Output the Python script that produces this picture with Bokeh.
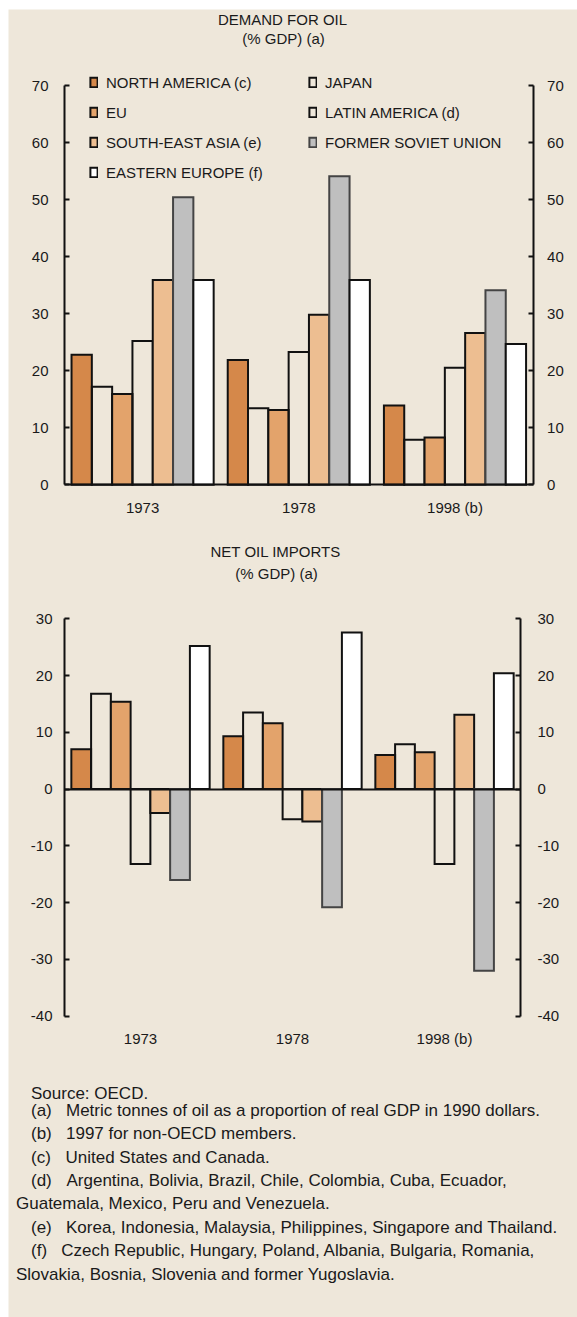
from bokeh.plotting import figure
from bokeh.models import (ColumnDataSource, Range1d, FixedTicker, LinearAxis, Legend,
                          LegendItem, Label)
from bokeh.transform import dodge
from bokeh.embed import file_html
from bokeh.resources import INLINE

# ---------------- data ----------------
years = ["1973", "1978", "1998 (b)"]
series = ["NORTH AMERICA (c)", "JAPAN", "EU", "LATIN AMERICA (d)",
          "SOUTH-EAST ASIA (e)", "FORMER SOVIET UNION", "EASTERN EUROPE (f)"]

demand_north_america = [22.8, 21.9, 13.9]
demand_japan = [17.2, 13.4, 7.9]
demand_eu = [15.9, 13.1, 8.3]
demand_latin_america = [25.2, 23.3, 20.5]
demand_se_asia = [35.9, 29.8, 26.6]
demand_fsu = [50.4, 54.1, 34.1]
demand_eastern_europe = [35.9, 35.9, 24.7]

imports_north_america = [7.0, 9.3, 6.0]
imports_japan = [16.8, 13.5, 7.9]
imports_eu = [15.4, 11.6, 6.5]
imports_latin_america = [-13.2, -5.3, -13.2]
imports_se_asia = [-4.2, -5.7, 13.1]
imports_fsu = [-16.0, -20.8, -32.0]
imports_eastern_europe = [25.2, 27.6, 20.4]

demand_ticks = [0, 10, 20, 30, 40, 50, 60, 70]
imports_ticks = [-40, -30, -20, -10, 0, 10, 20, 30]

titles_top = ["DEMAND FOR OIL", "(% GDP) (a)"]
titles_bottom = ["NET OIL IMPORTS", "(% GDP) (a)"]

notes = [
    "Source: OECD.",
    "(a)", "Metric tonnes of oil as a proportion of real GDP in 1990 dollars.",
    "(b)", "1997 for non-OECD members.",
    "(c)", "United States and Canada.",
    "(d)", "Argentina, Bolivia, Brazil, Chile, Colombia, Cuba, Ecuador,",
    "Guatemala, Mexico, Peru and Venezuela.",
    "(e)", "Korea, Indonesia, Malaysia, Philippines, Singapore and Thailand.",
    "(f)", "Czech Republic, Hungary, Poland, Albania, Bulgaria, Romania,",
    "Slovakia, Bosnia, Slovenia and former Yugoslavia.",
]

# ---------------- style / layout ----------------
BG = "#EEE7DA"
FONT = "Liberation Sans"
TXT = "#1a1a1a"
CFS = "15px"
fills = ["#D5884A", None, "#E3A36B", None, "#EDBE91", "#BFBFBF", "#FFFFFF"]
lines = ["#111111", "#111111", "#111111", "#111111", "#111111", "#444444", "#111111"]
BW = 0.13

W, H = 577, 1317          # page size
FL, FT = 8, 9             # panel (frame) top-left on the page
FW, FH = W - FL, H - FT


def xr_from(v0, px0, v1, px1):
    k = (v1 - v0) / (px1 - px0)
    return Range1d(v0 + (FL - px0) * k, v0 + (W - px0) * k)


def yr_from(v0, py0, v1, py1):
    k = (v1 - v0) / (py1 - py0)
    return Range1d(v0 + (H - py0) * k, v0 + (FT - py0) * k)


p = figure(frame_width=FW, frame_height=FH,
           min_border_left=FL, min_border_top=FT, min_border_right=0, min_border_bottom=0,
           x_range=Range1d(0, FW), y_range=Range1d(FH, 0),
           x_axis_type=None, y_axis_type=None,
           output_backend="svg", toolbar_location=None,
           background_fill_color=BG, border_fill_color="#FFFFFF",
           outline_line_color=None)
p.xgrid.visible = False
p.ygrid.visible = False

p.extra_x_ranges = {"tx": xr_from(-0.5, 64, 2.5, 532.6),
                    "bx": xr_from(-0.5, 64, 2.5, 520)}
p.extra_y_ranges = {"ty": yr_from(0, 484.3, 70, 85),
                    "by": yr_from(-40, 1015.7, 30, 618.3)}


def style_axis(ax, stand):
    ax.major_label_standoff = stand
    ax.major_label_text_font = FONT
    ax.major_label_text_font_size = CFS
    ax.major_label_text_color = TXT
    ax.minor_tick_line_color = None
    ax.axis_line_width = 2
    ax.axis_line_color = "#111111"


def chart(values, ticks, xr, yr, lstand, rstand, xstand, zero_axis):
    data = dict(g=[0, 1, 2])
    for i, v in enumerate(values):
        data[f"s{i}"] = v
    src = ColumnDataSource(data)
    rs = []
    for i in range(len(series)):
        r = p.vbar(x=dodge("g", (i - 3) * BW), top=f"s{i}", bottom=0, width=BW,
                   source=src, fill_color=fills[i], line_color=lines[i],
                   line_width=2, line_join="miter",
                   x_range_name=xr, y_range_name=yr)
        rs.append(r)

    lo, hi = ticks[0], ticks[-1]
    # value axes, left and right
    for side, loc, st in (("left", -0.5, lstand), ("right", 2.5, rstand)):
        ax = LinearAxis(x_range_name=xr, y_range_name=yr, fixed_location=loc,
                        bounds=(lo, hi), ticker=FixedTicker(ticks=ticks),
                        major_label_overrides={t: str(t) for t in ticks})
        style_axis(ax, st)
        ax.major_tick_in = 5
        ax.major_tick_out = 0
        ax.major_tick_line_width = 2
        ax.major_tick_line_color = "#111111"
        p.add_layout(ax, side)

    # category axis
    cat_loc = 0 if zero_axis else lo
    xa = LinearAxis(x_range_name=xr, y_range_name=yr, fixed_location=cat_loc,
                    bounds=(-0.5, 2.5), ticker=FixedTicker(ticks=[0, 1, 2]),
                    major_label_overrides={0: years[0], 1: years[1], 2: years[2]})
    style_axis(xa, xstand)
    xa.major_tick_in = 0
    xa.major_tick_out = 0
    xa.major_tick_line_color = None
    if not zero_axis:
        xa.axis_line_color = None
        # zero line as an axis without ticks or labels
        za = LinearAxis(x_range_name=xr, y_range_name=yr, fixed_location=0,
                        bounds=(-0.5, 2.5), ticker=FixedTicker(ticks=[]))
        style_axis(za, 0)
        za.major_tick_line_color = None
        za.major_label_text_alpha = 0
        p.add_layout(za, "below")
    p.add_layout(xa, "below")
    return rs


top_rs = chart([demand_north_america, demand_japan, demand_eu, demand_latin_america,
                demand_se_asia, demand_fsu, demand_eastern_europe],
               demand_ticks, "tx", "ty", 16, 14, 14, True)
chart([imports_north_america, imports_japan, imports_eu, imports_latin_america,
       imports_se_asia, imports_fsu, imports_eastern_europe],
      imports_ticks, "bx", "by", 12, 17, 14, False)

# legend (column-major, 4 rows)
order = [0, 2, 4, 6, 1, 3, 5]
lg = Legend(items=[LegendItem(label=series[i], renderers=[top_rs[i]]) for i in order],
            location=(81, H - 182), orientation="vertical", nrows=4,
            glyph_width=9, glyph_height=12, label_standoff=8,
            label_width=192, label_height=20, spacing=10,
            padding=0, margin=0, border_line_color=None,
            background_fill_alpha=0,
            label_text_font=FONT, label_text_font_size=CFS,
            label_text_color=TXT, label_text_baseline="middle")
p.add_layout(lg)


def page_label(text, px, py, size, align="left"):
    p.add_layout(Label(x=px - FL, y=py - FT, text=text, text_align=align,
                       text_baseline="middle", text_font=FONT, text_font_size=size,
                       text_color=TXT))


for t, (px, py) in zip(titles_top, [(282, 18.5), (283, 38)]):
    page_label(t, px, py, CFS, "center")
for t, (px, py) in zip(titles_bottom, [(275.3, 551), (276, 573)]):
    page_label(t, px, py, CFS, "center")

note_pos = [(30.5, 1093),
            (30.5, 1109.5), (65.5, 1109.5),
            (30.5, 1133), (65.5, 1133),
            (30.5, 1157), (65, 1157),
            (30.5, 1179.5), (66, 1179.5),
            (15.5, 1203),
            (30.5, 1226.5), (65.5, 1226.5),
            (30.5, 1250), (60.7, 1250),
            (15.5, 1273.5)]
for t, (px, py) in zip(notes, note_pos):
    page_label(t, px, py, "17px")

open("out.html", "w").write(file_html(p, INLINE))
